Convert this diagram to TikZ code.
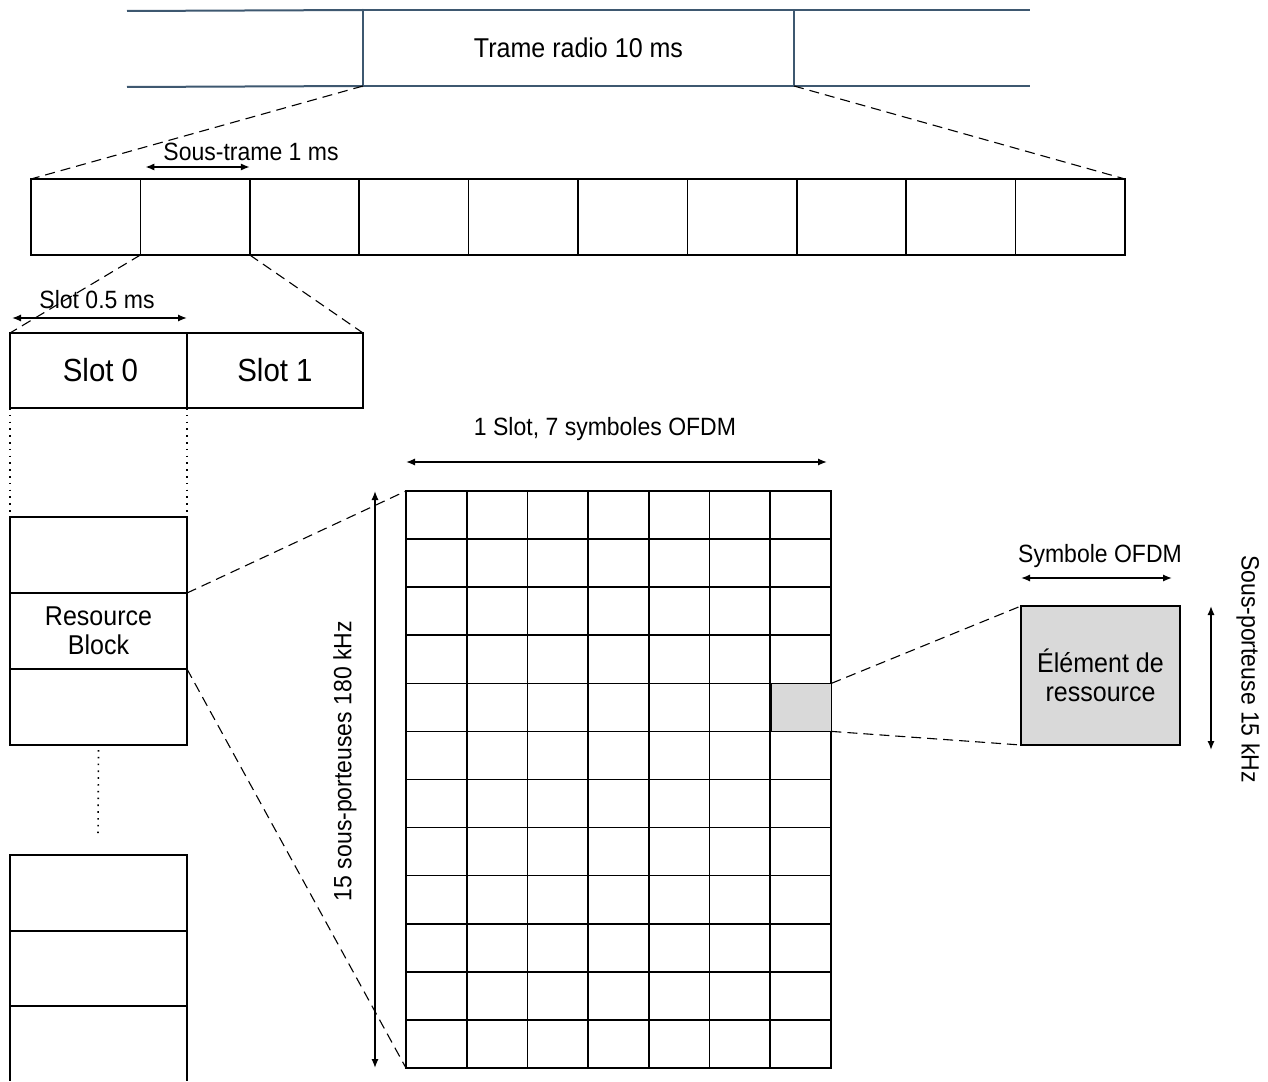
\documentclass[tikz,border=0pt]{standalone}
\usepackage{fontspec}
\setmainfont{Liberation Sans}[FakeStretch=0.92]
\usetikzlibrary{arrows.meta,calc}
\definecolor{framecol}{RGB}{62,88,112}
\definecolor{cellgray}{RGB}{217,217,217}
\begin{document}
\begin{tikzpicture}[x=0.5pt,y=-0.5pt,
  box/.style={draw,line width=0.8pt,inner sep=0pt,outer sep=0pt,anchor=north west,align=center,font=\fontsize{13.6}{14.5}\selectfont},
  txt/.style={font=\fontsize{12.5}{14.5}\selectfont,inner sep=0pt,align=center},
  big/.style={font=\fontsize{16}{18}\selectfont},
  dimarrow/.style={{Latex[length=4.5pt,width=3.6pt]}-{Latex[length=4.5pt,width=3.6pt]},line width=0.8pt},
  zoomline/.style={dash pattern=on 5pt off 3pt,line width=0.55pt},
  dotline/.style={dash pattern=on 0.8pt off 2.6pt,line width=0.8pt},
  gridline/.style={line width=0.8pt}]
\useasboundingbox (0,0) rectangle (1268,1081);

% radio frame
\node[box,draw=framecol,line width=1pt,minimum width=215.5pt,minimum height=38pt] (trame) at (363,10) {\raisebox{-1pt}{Trame radio 10 ms}};
\coordinate (fl1) at (127,11);
\coordinate (fl2) at (127,87);
\coordinate (fr1) at (1030,10);
\coordinate (fr2) at (1030,86);
\draw[framecol,line width=1pt] (fl1) -- (trame.north west) (fl2) -- (trame.south west);
\draw[framecol,line width=1pt] (trame.north east) -- (fr1) (trame.south east) -- (fr2);

% subframes
\foreach \i in {1,...,10}
  \node[box,minimum width=54.7pt,minimum height=38pt] (sf\i) at ({31+(\i-1)*109.4},179) {};
\draw[dimarrow] ([xshift=2.5pt,yshift=6pt]sf2.north west) -- ([yshift=6pt]sf2.north east);
\node[txt] (sflab) at (251,152) {Sous-trame 1 ms};
\draw[zoomline] (trame.south west) -- (sf1.north west);
\draw[zoomline] (trame.south east) -- (sf10.north east);

% slots
\node[box,big,minimum width=88.5pt,minimum height=37.5pt] (slot0) at (10,333) {\hspace*{2pt}Slot 0};
\node[box,big,minimum width=88pt,minimum height=37.5pt] (slot1) at (187,333) {Slot 1};
\draw[zoomline] (sf2.south west) -- (slot0.north west);
\draw[zoomline] (sf2.south east) -- (slot1.north east);
\draw[dimarrow] ([xshift=1pt,yshift=7.5pt]slot0.north west) -- ([yshift=7.5pt]slot0.north east);
\node[txt] (slotlab) at (97,300) {Slot 0.5 ms};

% resource block column
\node[box,minimum width=88.5pt,minimum height=38pt] (rb1) at (10,517) {};
\node[box,minimum width=88.5pt,minimum height=38pt] (rb2) at (10,593) {Resource\\Block};
\node[box,minimum width=88.5pt,minimum height=38pt] (rb3) at (10,669) {};
\draw[dotline] (slot0.south west) -- (rb1.north west);
\draw[dotline] (slot0.south east) -- (rb1.north east);
\coordinate (dotend) at (98,838);
\draw[dotline] ([yshift=-2.5pt]rb3.south) -- (dotend);

% lower column
\node[box,minimum width=88.5pt,minimum height=38pt] (bb1) at (10,855) {};
\node[box,minimum width=88.5pt,minimum height=37.5pt] (bb2) at (10,931) {};
\coordinate (bb3l) at (10,1081);
\coordinate (bb3r) at (187,1081);
\draw[line width=0.8pt] (bb2.south west) -- (bb3l) (bb2.south east) -- (bb3r);

% resource grid
\node[box,minimum width=212.5pt,minimum height=288.5pt] (grid) at (406,491) {};
\node[box,fill=cellgray,minimum width=30.36pt,minimum height=24.04pt] (re) at (770.71,683.33) {};
\foreach \i in {1,...,6}
  \draw[gridline] ($(grid.north west)!\i/7!(grid.north east)$) -- ($(grid.south west)!\i/7!(grid.south east)$);
\foreach \j in {1,...,11}
  \draw[gridline] ($(grid.north west)!\j/12!(grid.south west)$) -- ($(grid.north east)!\j/12!(grid.south east)$);
\draw[zoomline] (rb2.north east) -- (grid.north west);
\draw[zoomline] (rb2.south east) -- (grid.south west);
\draw[dimarrow] ([yshift=14.5pt]grid.north west) -- ([xshift=-2pt,yshift=14.5pt]grid.north east);
\node[txt] (gridlab) at (605,429) {1 Slot, 7 symboles OFDM};
\draw[dimarrow] ([xshift=-15.5pt]grid.north west) -- ([xshift=-15.5pt]grid.south west);
\node[txt,rotate=90] (sublab) at (345,761) {15 sous-porteuses 180 kHz};

% resource element
\node[box,fill=cellgray,minimum width=79.5pt,minimum height=69.5pt] (elem) at (1021,606) {Élément de\\ressource};
\draw[zoomline] (re.north east) -- (elem.north west);
\draw[zoomline] (re.south east) -- (elem.south west);
\draw[dimarrow] ([yshift=14pt]elem.north west) -- ([xshift=-4pt,yshift=14pt]elem.north east);
\node[txt] (symlab) at (1100,556) {Symbole OFDM};
\draw[dimarrow] ([xshift=15.5pt]elem.north east) -- ([xshift=15.5pt,yshift=-2.5pt]elem.south east);
\node[txt,rotate=-90] (sclab) at (1248,669) {Sous-porteuse 15 kHz};
\end{tikzpicture}
\end{document}
